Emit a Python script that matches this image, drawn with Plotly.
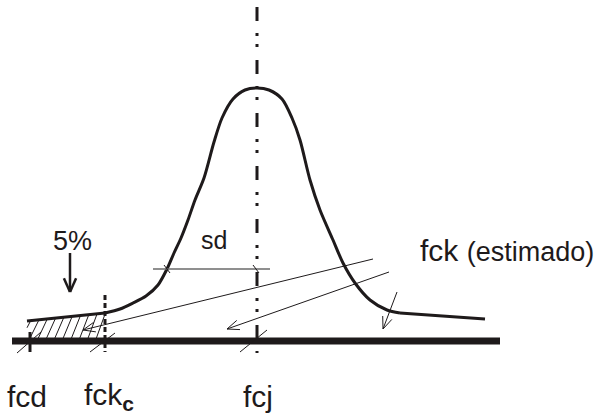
import math
import numpy as np
import plotly.graph_objects as go

# Diagram space: x to the right, y downwards (0..600 x 0..419)
W, H = 600, 419
INK = "#1e1a1b"

# Density curve (bell) traced through its outline
curve_x = [105, 120, 133, 146, 158, 167, 174, 181, 188, 195, 204, 214, 222, 233, 245, 257,
           269, 282, 292, 300, 310, 320, 333, 343, 355, 370, 387, 400]
curve_y = [313, 309, 303, 296, 285, 269, 253, 238, 220, 200, 178, 142, 118, 99, 90, 88,
           90, 99, 118, 140, 180, 210, 240, 263, 283, 300, 310, 313]

# Straight tails of the distribution
left_tail_x = [27, 105]
left_tail_y = [321, 313]
right_tail_x = [400, 485]
right_tail_y = [313, 319]

# Strength axis
axis_x = [12, 500]
axis_y = [341, 341]

# Characteristic positions on the axis
fcd_x, fckc_x, fcj_x = 30, 105, 257
label_names = ["fcd", "fck<sub><b>c</b></sub>", "fcj"]
label_x = [5, 82, 241]
label_y = [396, 396, 396]

# Standard deviation marker
sd_x = [153, 270]
sd_y = [269, 269]

# Pointer lines (tail -> tip)
arrows = [
    ((373, 259), (83, 330)),
    ((389, 272), (227, 329)),
    ((397, 292), (383, 329)),
]
pct_arrow = ((70, 253), (70, 292))

# Small oblique ticks
ticks = [
    ((17, 353), (41, 332)),
    ((90, 352), (115, 333)),
    ((240, 352), (267, 330)),
    ((253, 265), (259, 273)),
    ((164, 265), (170, 273)),
]

# Hatching of the 5% area: spacing and horizontal lean of each stroke
HATCH_STEP, HATCH_LEAN = 8.3, 9


def barbs(tail, tip, length, half_angle_deg):
    """Two short strokes forming an open arrow head at `tip`."""
    dx, dy = tail[0] - tip[0], tail[1] - tip[1]
    base = math.atan2(dy, dx)
    out_x, out_y = [], []
    for s in (-1, 1):
        a = base + s * math.radians(half_angle_deg)
        out_x += [tip[0], tip[0] + length * math.cos(a), None]
        out_y += [tip[1], tip[1] + length * math.sin(a), None]
    return out_x, out_y


def segments(pairs):
    xs, ys = [], []
    for (x0, y0), (x1, y1) in pairs:
        xs += [x0, x1, None]
        ys += [y0, y1, None]
    return xs, ys


def hatch(x0, x1, top_x, top_y, bottom):
    """Slanted strokes between the axis and the tail line, clipped to [x0, x1]."""
    xs, ys = [], []
    slope = (top_y[1] - top_y[0]) / (top_x[1] - top_x[0])
    for xb in np.arange(x0 + 3, x1, HATCH_STEP):
        xt = xb + HATCH_LEAN
        yb = bottom
        if xt > x1:
            # clip at the right edge
            frac = (x1 - xb) / HATCH_LEAN
            yt_line = top_y[0] + slope * (x1 - top_x[0])
            xt, yt = x1, bottom + frac * (yt_line - bottom)
        else:
            yt = top_y[0] + slope * (xt - top_x[0])
        xs += [xb, xt, None]
        ys += [yb, yt, None]
    # strokes starting left of x0, clipped at the left edge
    xb = x0 + 3 - HATCH_STEP
    if xb + HATCH_LEAN > x0:
        yt = top_y[0] + slope * (xb + HATCH_LEAN - top_x[0])
        frac = (x0 - xb) / HATCH_LEAN
        xs += [x0, xb + HATCH_LEAN, None]
        ys += [bottom + frac * (yt - bottom), yt, None]
    return xs, ys


fig = go.Figure()

# Hatched 5% region under the left tail
hx, hy = hatch(left_tail_x[0], left_tail_x[1], left_tail_x, left_tail_y, axis_y[0] - 3)
fig.add_trace(go.Scatter(
    x=hx, y=hy, mode="lines",
    line=dict(color=INK, width=1), hoverinfo="skip",
))

# Mean line (dash-dot-dot)
fig.add_trace(go.Scatter(
    x=[fcj_x, fcj_x], y=[7, 353], mode="lines",
    line=dict(color=INK, width=3, dash="14px,12px,3px,8px,3px,13px"),
    hoverinfo="skip",
))

# fck_c dashed marker
fig.add_trace(go.Scatter(
    x=[fckc_x, fckc_x], y=[295, 352], mode="lines",
    line=dict(color=INK, width=3, dash="5px,3px"),
    hoverinfo="skip",
))

# fcd tick
fig.add_trace(go.Scatter(
    x=[fcd_x, fcd_x], y=[332, 352], mode="lines",
    line=dict(color=INK, width=3), hoverinfo="skip",
))

# Axis
fig.add_trace(go.Scatter(
    x=axis_x, y=axis_y, mode="lines",
    line=dict(color=INK, width=7), hoverinfo="skip",
))

# Distribution
fig.add_trace(go.Scatter(
    x=curve_x, y=curve_y, mode="lines",
    line=dict(color=INK, width=3, shape="spline", smoothing=0.8), hoverinfo="skip",
))
for tx, ty in ((left_tail_x, left_tail_y), (right_tail_x, right_tail_y)):
    fig.add_trace(go.Scatter(
        x=tx, y=ty, mode="lines",
        line=dict(color=INK, width=3), hoverinfo="skip",
    ))

# sd bar
fig.add_trace(go.Scatter(
    x=sd_x, y=sd_y, mode="lines",
    line=dict(color="#6a6a6a", width=1.6), hoverinfo="skip",
))

# Thin pointers with open heads, plus oblique ticks
px, py = segments(arrows)
px2, py2 = segments(ticks)
px += px2
py += py2
for tail, tip in arrows:
    bx, by = barbs(tail, tip, 13, 22)
    px += bx
    py += by
fig.add_trace(go.Scatter(
    x=px, y=py, mode="lines",
    line=dict(color=INK, width=1), hoverinfo="skip",
))

# 5% pointer
bx, by = barbs(pct_arrow[0], pct_arrow[1], 15, 24)
fig.add_trace(go.Scatter(
    x=[pct_arrow[0][0], pct_arrow[1][0], None] + bx,
    y=[pct_arrow[0][1], pct_arrow[1][1], None] + by,
    mode="lines", line=dict(color=INK, width=2.5), hoverinfo="skip",
))

FONT = "Liberation Sans, Arial, sans-serif"
annotations = []
for name, lx, ly in zip(label_names, label_x, label_y):
    annotations.append(dict(
        x=lx, y=ly, xref="x", yref="y", text=name, showarrow=False,
        xanchor="left", yanchor="middle", font=dict(family=FONT, size=30, color=INK),
    ))
annotations += [
    dict(x=72, y=241, xref="x", yref="y", text="5%", showarrow=False,
         xanchor="center", yanchor="middle", font=dict(family=FONT, size=27, color=INK)),
    dict(x=214, y=240, xref="x", yref="y", text="sd", showarrow=False,
         xanchor="center", yanchor="middle", font=dict(family=FONT, size=25, color=INK)),
    dict(x=418, y=250, xref="x", yref="y",
         text="fck <span style='font-size:27px'>(estimado)</span>", showarrow=False,
         xanchor="left", yanchor="middle", font=dict(family=FONT, size=30, color=INK)),
]

fig.update_layout(
    width=W, height=H, margin=dict(l=0, r=0, t=0, b=0),
    paper_bgcolor="white", plot_bgcolor="white", showlegend=False,
    xaxis=dict(range=[0, W], visible=False, fixedrange=True),
    yaxis=dict(range=[H, 0], visible=False, fixedrange=True),
    annotations=annotations,
)

fig.write_html("out.html")
